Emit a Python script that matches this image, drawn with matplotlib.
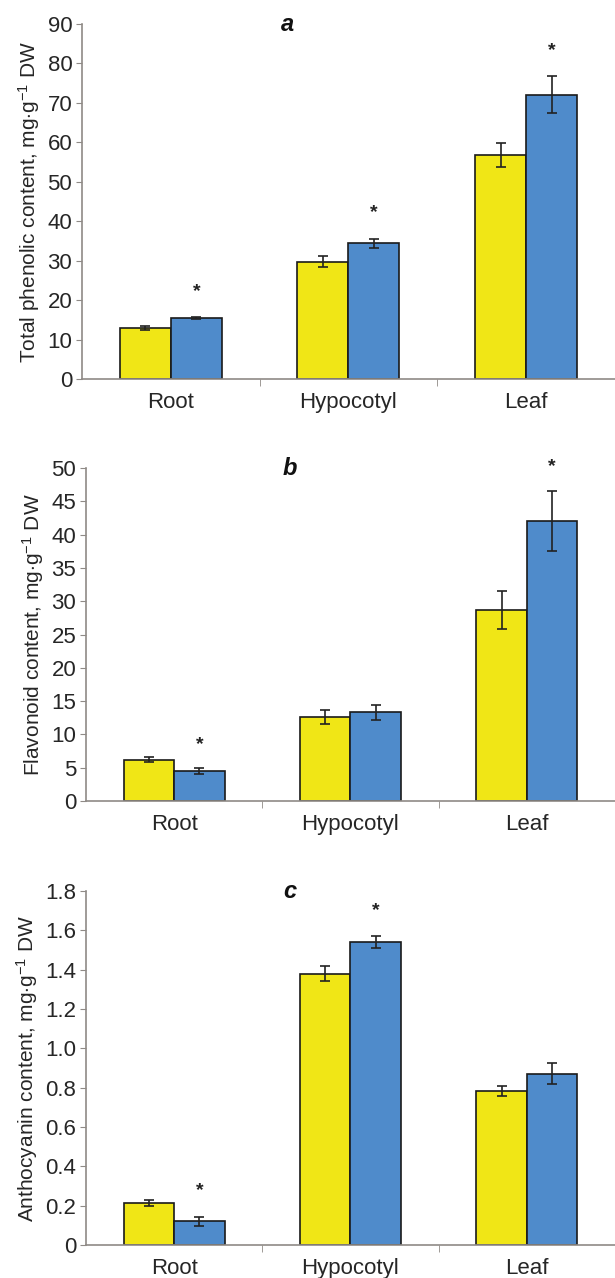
"""
Phenolic / flavonoid / anthocyanin content by organ
"""

import matplotlib
matplotlib.use("Agg")
import matplotlib.pyplot as plt
import numpy as np

plt.rcParams['font.family'] = ['Liberation Sans', 'DejaVu Sans']
plt.rcParams['mathtext.fontset'] = 'custom'
plt.rcParams['mathtext.rm'] = 'Liberation Sans'
plt.rcParams['mathtext.it'] = 'Liberation Sans:italic'

categories = ['Root', 'Hypocotyl', 'Leaf']

# panel a - total phenolic content
phen_yellow = [13.0, 29.8, 56.8]
phen_yellow_err = [0.5, 1.3, 3.0]
phen_blue = [15.4, 34.4, 72.1]
phen_blue_err = [0.3, 1.2, 4.6]
phen_star = [True, True, True]

# panel b - flavonoid content
flav_yellow = [6.2, 12.6, 28.7]
flav_yellow_err = [0.4, 1.1, 2.9]
flav_blue = [4.5, 13.3, 42.1]
flav_blue_err = [0.45, 1.15, 4.5]
flav_star = [True, False, True]

# panel c - anthocyanin content
anth_yellow = [0.215, 1.38, 0.784]
anth_yellow_err = [0.015, 0.038, 0.027]
anth_blue = [0.122, 1.542, 0.872]
anth_blue_err = [0.023, 0.031, 0.053]
anth_star = [True, True, False]

phen_ticks = [0, 10, 20, 30, 40, 50, 60, 70, 80, 90]
flav_ticks = [0, 5, 10, 15, 20, 25, 30, 35, 40, 45, 50]
anth_ticks = [0, 0.2, 0.4, 0.6, 0.8, 1.0, 1.2, 1.4, 1.6, 1.8]
anth_ticklabels = ['0', '0.2', '0.4', '0.6', '0.8', '1.0', '1.2', '1.4', '1.6', '1.8']

YELLOW = '#f0e616'
BLUE = '#4f8bcb'
AXIS_GRAY = '#8f8a86'
TEXT = '#262626'

fig = plt.figure(figsize=(6.15, 12.78), dpi=100)

unit = r' mg$\cdot$g$^{\mathregular{-1}}$ DW'
panels = [
    ([0.1333, 0.7034, 0.8667, 0.2778], 'a', phen_yellow, phen_yellow_err, phen_blue, phen_blue_err,
     phen_star, phen_ticks, [str(t) for t in phen_ticks],
     'Total phenolic content,' + unit),
    ([0.1398, 0.3732, 0.8602, 0.2606], 'b', flav_yellow, flav_yellow_err, flav_blue, flav_blue_err,
     flav_star, flav_ticks, [str(t) for t in flav_ticks],
     'Flavonoid content,' + unit),
    ([0.1398, 0.0258, 0.8602, 0.2770], 'c', anth_yellow, anth_yellow_err, anth_blue, anth_blue_err,
     anth_star, anth_ticks, anth_ticklabels,
     'Anthocyanin content,' + unit),
]

w = 0.287
x = np.arange(len(categories))

for rect, letter, yv, ye, bv, be, stars, ticks, ticklabels, ylabel in panels:
    ax = fig.add_axes(rect)
    ymax = ticks[-1]
    ax.bar(x - w / 2, yv, w, color=YELLOW, edgecolor='#1a1a1a', linewidth=1.2, zorder=2)
    ax.bar(x + w / 2, bv, w, color=BLUE, edgecolor='#1a1a1a', linewidth=1.2, zorder=2)
    ax.errorbar(x - w / 2, yv, yerr=ye, fmt='none', ecolor='#222222', elinewidth=1.2,
                capsize=3.5, capthick=1.2, zorder=3)
    ax.errorbar(x + w / 2, bv, yerr=be, fmt='none', ecolor='#222222', elinewidth=1.2,
                capsize=3.5, capthick=1.2, zorder=3)

    # significance stars above the blue bars
    for i, s in enumerate(stars):
        if s:
            ax.text(x[i] + w / 2, bv[i] + be[i] + 0.072 * ymax, '*', ha='center', va='center',
                    fontsize=14, fontweight='bold', color='#222222')

    ax.set_xlim(-0.5, 2.5)
    ax.set_ylim(0, ymax)
    ax.set_yticks(ticks)
    ax.set_yticklabels(ticklabels, fontsize=16, color=TEXT)
    ax.set_xticks(x)
    ax.set_xticklabels(categories, fontsize=16, color=TEXT)
    ax.set_xticks([0.5, 1.5], minor=True)
    ax.tick_params(axis='x', which='major', length=0, pad=9)
    ax.tick_params(axis='x', which='minor', length=5, color=AXIS_GRAY, direction='out')
    ax.tick_params(axis='y', length=4, color=AXIS_GRAY, direction='out', pad=3)
    ax.set_ylabel(ylabel, fontsize=15, color=TEXT, labelpad=4)

    for side in ['top', 'right']:
        ax.spines[side].set_visible(False)
    for side in ['left', 'bottom']:
        ax.spines[side].set_color(AXIS_GRAY)
        ax.spines[side].set_linewidth(1.2)

    ax.text(0.385, 1.0, letter, transform=ax.transAxes, ha='center', va='center',
            fontsize=17, fontweight='bold', fontstyle='italic', color='#111111')

fig.savefig('out.png', dpi=100)
